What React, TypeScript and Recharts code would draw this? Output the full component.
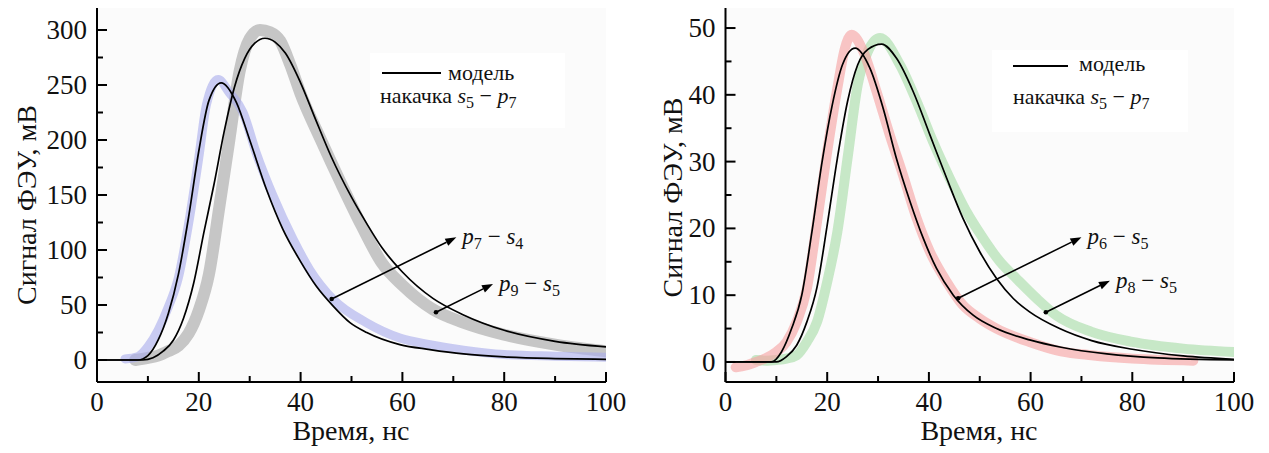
import React from 'react';
import { ComposedChart, Line, XAxis, YAxis, ReferenceLine, Customized, CartesianGrid } from 'recharts';

const FONT = '"Liberation Serif", "Times New Roman", serif';

// time axis (ns), shared by both panels
const xTicks = [0, 10, 20, 30, 40, 50, 60, 70, 80, 90, 100];

// left panel ticks (mV)
const leftTicks = [0, 25, 50, 75, 100, 125, 150, 175, 200, 225, 250, 275, 300];
// right panel ticks (mV)
const rightTicks = [0, 5, 10, 15, 20, 25, 30, 35, 40, 45, 50];

// left panel, p7 - s4 measurement (blue band)
const blueT = [5.5, 8, 10, 12, 14, 16, 18, 20, 21.5, 23.8, 26, 28.7, 31.3, 34.6, 38.5, 41.8, 46.4, 52.9, 59.5, 65.4, 72, 80, 90, 100];
const blueV = [1, 3, 12, 27, 48, 75, 124, 184, 232, 255, 243, 225, 188, 149, 110, 82, 55, 34, 20, 14, 9, 5, 3.5, 2.5];
// left panel, model for p7 - s4
const blueModelT = [0, 8, 10, 12, 14, 16, 18, 20, 22, 24.4, 27.4, 30, 33.3, 36.5, 39.8, 43.1, 46.4, 49.7, 53, 59.5, 65.4, 72, 80, 90, 100];
const blueModelV = [0, 0, 4, 18, 42, 78, 130, 190, 236, 252, 234, 200, 155, 119, 91, 67, 49, 34, 25, 14, 9.5, 5.5, 2.8, 1.3, 0.6];

// left panel, p9 - s5 measurement (gray band)
const grayT = [7.5, 10, 12, 14, 16, 18, 20, 22, 24, 26, 28, 30, 32, 34, 36, 38, 40, 44, 48, 52, 56, 60, 66, 72, 80, 90, 100];
const grayV = [0, 2, 4, 8, 13, 24, 45, 78, 138, 200, 262, 292, 300, 298, 290, 268, 242, 200, 160, 122, 88, 68, 46, 34, 23, 14, 8];
// left panel, model for p9 - s5
const grayModelT = [0, 9, 11, 13, 15, 17, 19, 21, 23, 25, 27, 29, 31, 33, 35, 37, 40, 43, 46, 50, 53, 56, 60, 66, 72, 80, 90, 100];
const grayModelV = [0, 0, 2, 8, 18, 38, 70, 116, 160, 208, 248, 274, 288, 292.5, 289, 279, 252, 218, 185, 148, 124, 102, 80, 56, 41, 27, 17, 12];

// right panel, p6 - s5 measurement (red band)
const redT = [2, 4, 6, 8, 10, 12, 14, 16, 18, 20, 22, 23.5, 24.8, 27.1, 29.7, 32.3, 34.9, 37.6, 40.2, 43.5, 46.7, 50, 53.3, 59.8, 66, 72, 80, 92];
const redV = [-0.8, -0.5, 0, 0.6, 1.5, 3, 6, 11, 21, 31.5, 41, 47, 49, 46.5, 40.5, 34, 28, 21.5, 16.5, 12, 8.5, 6.5, 5, 3, 1.6, 1, 0.5, 0.2];
// right panel, model for p6 - s5
const redModelT = [0, 9, 11, 13, 15, 17, 19, 21, 23, 25.5, 28.4, 31, 33.6, 36.3, 38.9, 41.5, 44.8, 48.7, 53.3, 59.8, 66, 75, 85, 100];
const redModelV = [0, 0, 1.5, 5, 10, 19.5, 30, 38.5, 44.5, 47, 44, 38, 30.5, 24, 18.5, 14, 10, 7, 5, 3.3, 2.2, 1.2, 0.6, 0.3];

// right panel, p8 - s5 measurement (green band)
const greenT = [6, 8, 10, 12, 14, 16, 18, 20, 22, 24, 26, 28, 30.4, 34.3, 37.6, 40.8, 44.1, 47.4, 50.7, 54, 57.2, 61.2, 65, 72, 80, 90, 100];
const greenV = [0.3, 0.2, 0.3, 0.5, 1, 3, 6, 12, 19.5, 30.5, 41.5, 46.5, 48.5, 44.5, 39, 33, 27.5, 22.5, 18.5, 15, 12.5, 9.5, 7, 4.5, 3, 2, 1.5];
// right panel, model for p8 - s5
const greenModelT = [0, 10, 12, 14, 16, 18, 20, 22, 24, 26, 28, 30.7, 33.6, 36.9, 40.2, 43.5, 46.7, 50, 53.3, 56.6, 59.8, 65.7, 72, 80, 90, 100];
const greenModelV = [0, 0, 0.8, 2.5, 6, 11.2, 20.5, 30.5, 39, 44.5, 46.8, 47.6, 45.5, 40.5, 34, 27.5, 21.5, 16.5, 12.5, 9.5, 7.5, 5, 3.2, 1.9, 0.9, 0.4];

const pts = (t: number[], v: number[]) => t.map((x, i) => ({ t: x, v: v[i] }));

// subscript formula like p7 - s4
const Formula = ({ x, y, a, ai, b, bi, size = 23 }: any) => (
  <text x={x} y={y} fontFamily={FONT} fontSize={size} fill="#111">
    <tspan fontStyle="italic">{a}</tspan>
    <tspan dy={5} fontSize={size * 0.7}>{ai}</tspan>
    <tspan dy={-5}>{' \u2212 '}</tspan>
    <tspan fontStyle="italic">{b}</tspan>
    <tspan dy={5} fontSize={size * 0.7}>{bi}</tspan>
  </text>
);

const arrowShape = (lab: any) => (p: any) => {
  const { x1, y1, x2, y2 } = p;
  const ang = Math.atan2(y2 - y1, x2 - x1);
  const c = Math.cos(ang), s = Math.sin(ang);
  const bx = x2 - 11 * c, by = y2 - 11 * s;
  const head = `${x2},${y2} ${bx - 4 * s},${by + 4 * c} ${bx + 4 * s},${by - 4 * c}`;
  return (
    <g>
      <line x1={x1} y1={y1} x2={bx} y2={by} stroke="#000" strokeWidth={1.6} />
      <polygon points={head} fill="#000" />
      <circle cx={x1} cy={y1} r={2.3} fill="#000" />
      <Formula x={x2 + 6} y={y2 + 7} {...lab} />
    </g>
  );
};

const makeXTick = () => (props: any) => {
  const { x, y, payload } = props;
  const major = payload.value % 20 === 0;
  return (
    <g>
      <line x1={x} y1={y} x2={x} y2={y - (major ? 10 : 6)} stroke="#000" strokeWidth={2} />
      {major && (
        <text x={x} y={y + 29} textAnchor="middle" fontFamily={FONT} fontSize={27} fill="#111">
          {payload.value}
        </text>
      )}
    </g>
  );
};

const makeYTick = (step: number) => (props: any) => {
  const { x, y, payload } = props;
  const major = payload.value % step === 0;
  return (
    <g>
      <line x1={x} y1={y} x2={x + (major ? 10 : 6)} y2={y} stroke="#000" strokeWidth={2} />
      {major && (
        <text x={x - 10} y={y + 9} textAnchor="end" fontFamily={FONT} fontSize={27} fill="#111">
          {payload.value}
        </text>
      )}
    </g>
  );
};

const Overlay = ({ legend, ytitle, xtitle }: any) => (
  <g fontFamily={FONT} fill="#111">
    <rect x={legend.bx} y={legend.by} width={legend.bw} height={legend.bh} fill="#fff" />
    <line x1={legend.lx1} x2={legend.lx2} y1={legend.ly} y2={legend.ly} stroke="#000" strokeWidth={2} />
    <text x={legend.tx} y={legend.ty} fontSize={22}>модель</text>
    <text x={legend.nx} y={legend.ny} fontSize={22}>
      накачка{' '}
      <tspan fontStyle="italic">s</tspan>
      <tspan dy={5} fontSize={16}>5</tspan>
      <tspan dy={-5}>{' \u2212 '}</tspan>
      <tspan fontStyle="italic">p</tspan>
      <tspan dy={5} fontSize={16}>7</tspan>
    </text>
    <text
      x={ytitle.x}
      y={ytitle.y}
      transform={`rotate(-90, ${ytitle.x}, ${ytitle.y})`}
      textAnchor="middle"
      dominantBaseline="central"
      fontSize={28}
    >
      Сигнал ФЭУ, мВ
    </text>
    <text x={xtitle.x} y={xtitle.y} textAnchor="middle" fontSize={28}>
      Время, нс
    </text>
  </g>
);

const Panel = ({ cfg }: any) => (
  <ComposedChart width={cfg.width} height={453} margin={cfg.margin}>
    <CartesianGrid horizontal={false} vertical={false} fill="#fbfbfb" />
    <Customized component={<Overlay legend={cfg.legend} ytitle={cfg.ytitle} xtitle={cfg.xtitle} />} />
    <XAxis
      type="number"
      dataKey="t"
      domain={[0, 100]}
      ticks={xTicks}
      interval={0}
      height={1}
      tickSize={0}
      tickMargin={0}
      tickLine={false}
      axisLine={{ stroke: '#000', strokeWidth: 2 }}
      tick={makeXTick()}
      allowDataOverflow
    />
    <YAxis
      type="number"
      dataKey="v"
      domain={cfg.yDomain}
      ticks={cfg.yTicks}
      interval={0}
      width={1}
      tickSize={0}
      tickMargin={0}
      tickLine={false}
      axisLine={{ stroke: '#000', strokeWidth: 2 }}
      tick={makeYTick(cfg.yStep)}
      allowDataOverflow
    />
    {cfg.bands.map((b: any, i: number) => (
      <Line
        key={'b' + i}
        data={b.data}
        dataKey="v"
        type="monotone"
        stroke={b.color}
        strokeOpacity={0.62}
        strokeWidth={b.width}
        strokeLinecap="round"
        strokeLinejoin="round"
        dot={false}
        activeDot={false}
        isAnimationActive={false}
      />
    ))}
    {cfg.models.map((d: any, i: number) => (
      <Line
        key={'m' + i}
        data={d}
        dataKey="v"
        type="monotone"
        stroke="#000"
        strokeWidth={1.7}
        dot={false}
        activeDot={false}
        isAnimationActive={false}
      />
    ))}
    {cfg.arrows.map((a: any, i: number) => (
      <ReferenceLine key={'a' + i} segment={a.seg} shape={arrowShape(a.label)} />
    ))}
  </ComposedChart>
);

const leftCfg = {
  width: 634,
  margin: { top: 8, right: 28, bottom: 70, left: 96 },
  yDomain: [-20, 320],
  yTicks: leftTicks,
  yStep: 50,
  bands: [
    { data: pts(grayT, grayV), color: '#a4a4a4', width: 12 },
    { data: pts(blueT, blueV), color: '#a9acec', width: 9 },
  ],
  models: [pts(blueModelT, blueModelV), pts(grayModelT, grayModelV)],
  arrows: [
    { seg: [{ x: 46.1, y: 55.5 }, { x: 70.6, y: 111.5 }], label: { a: 'p', ai: '7', b: 's', bi: '4' } },
    { seg: [{ x: 66.6, y: 43.4 }, { x: 77.8, y: 69.1 }], label: { a: 'p', ai: '9', b: 's', bi: '5' } },
  ],
  legend: { bx: 370, by: 53, bw: 195, bh: 75, lx1: 382, lx2: 441, ly: 73, tx: 448, ty: 79.5, nx: 380, ny: 103 },
  ytitle: { x: 26, y: 205 },
  xtitle: { x: 351, y: 440 },
};

const rightCfg = {
  width: 635,
  margin: { top: 8, right: 35, bottom: 70, left: 90.5 },
  yDomain: [-3, 53],
  yTicks: rightTicks,
  yStep: 10,
  bands: [
    { data: pts(greenT, greenV), color: '#a6dca6', width: 10 },
    { data: pts(redT, redV), color: '#f6a2a2', width: 10 },
  ],
  models: [pts(redModelT, redModelV), pts(greenModelT, greenModelV)],
  arrows: [
    { seg: [{ x: 45.75, y: 9.54 }, { x: 70.0, y: 18.67 }], label: { a: 'p', ai: '6', b: 's', bi: '5' } },
    { seg: [{ x: 63.0, y: 7.44 }, { x: 75.6, y: 12.17 }], label: { a: 'p', ai: '8', b: 's', bi: '5' } },
  ],
  legend: { bx: 358, by: 50, bw: 196, bh: 82, lx1: 379, lx2: 434, ly: 66, tx: 445, ty: 71, nx: 379, ny: 104 },
  ytitle: { x: 38, y: 197.5 },
  xtitle: { x: 345, y: 440 },
};

const App: React.FC = () => {
  return (
    <div style={{ position: 'absolute', left: 0, top: 0, width: 1269, height: 453, background: '#fff', display: 'flex' }}>
      <Panel cfg={leftCfg} />
      <Panel cfg={rightCfg} />
    </div>
  );
};

export default App;
